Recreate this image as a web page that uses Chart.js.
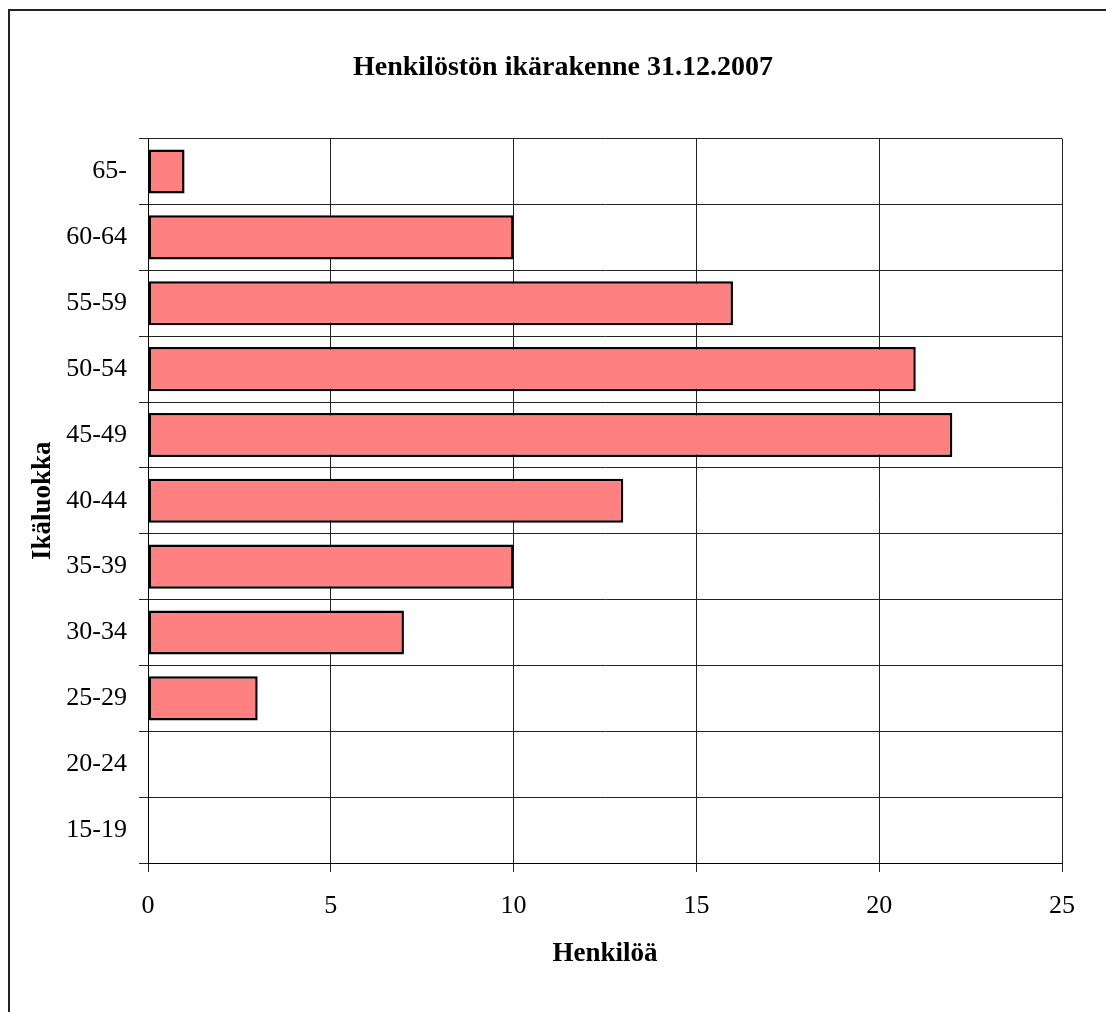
<!DOCTYPE html>
<html>
<head>
<meta charset="utf-8">
<script src="https://cdn.jsdelivr.net/npm/chart.js@4/dist/chart.umd.min.js"></script>
<style>
  html, body { margin: 0; padding: 0; background: #fff; overflow: hidden; }
  #wrap { position: relative; width: 1106px; height: 1012px; }
  #frame { position: absolute; left: 8px; top: 9px; width: 1200px; height: 1100px; border: 2px solid #222; box-sizing: border-box; pointer-events: none; }
</style>
</head>
<body>
<div id="wrap">
  <canvas id="graph"></canvas>
  <div id="frame"></div>
</div>
<script>
const ageGroups = ["65-", "60-64", "55-59", "50-54", "45-49", "40-44", "35-39", "30-34", "25-29", "20-24", "15-19"];
const persons = [1, 10, 16, 21, 22, 13, 10, 7, 3, 0, 0];

const chartTitle = "Henkilöstön ikärakenne 31.12.2007";
const xTitle = "Henkilöä";
const yTitle = "Ikäluokka";

const serif = "'Liberation Serif', 'Times New Roman', serif";

const ctx = document.getElementById("graph").getContext("2d");
new Chart(ctx, {
  type: "bar",
  data: {
    labels: ageGroups,
    datasets: [{
      data: persons,
      backgroundColor: "#ff8080",
      borderColor: "#000",
      borderWidth: 2.5,
      borderSkipped: false,
      categoryPercentage: 1,
      barPercentage: 0.67
    }]
  },
  options: {
    indexAxis: "y",
    responsive: true,
    maintainAspectRatio: false,
    animation: false,
    // wider left padding so the title sits centred like the original
    layout: { padding: { left: 64, right: 44, top: 0, bottom: 42 } },
    plugins: {
      legend: { display: false },
      tooltip: { enabled: false },
      title: {
        display: true,
        text: chartTitle,
        color: "#000",
        font: { family: serif, size: 28, weight: "bold" },
        padding: { top: 51, bottom: 54 }
      }
    },
    scales: {
      x: {
        min: 0,
        max: 25,
        ticks: { stepSize: 5, color: "#000", padding: 19, font: { family: serif, size: 26 } },
        grid: { color: "#222", lineWidth: 1, tickLength: 9 },
        border: { color: "#000", width: 1 },
        title: { display: true, text: xTitle, color: "#000", padding: 0, font: { family: serif, size: 27, weight: "bold" } },
        afterFit: s => { s.height = 107; }
      },
      y: {
        offset: true,
        ticks: { color: "#000", padding: 12, font: { family: serif, size: 26 } },
        grid: { offset: true, color: "#222", lineWidth: 1, tickLength: 9 },
        border: { color: "#000", width: 1 },
        title: { display: true, text: yTitle, color: "#000", padding: { top: -37, bottom: 0 }, font: { family: serif, size: 27, weight: "bold" } },
        afterFit: s => { s.width = 84; }
      }
    }
  }
});
</script>
</body>
</html>
